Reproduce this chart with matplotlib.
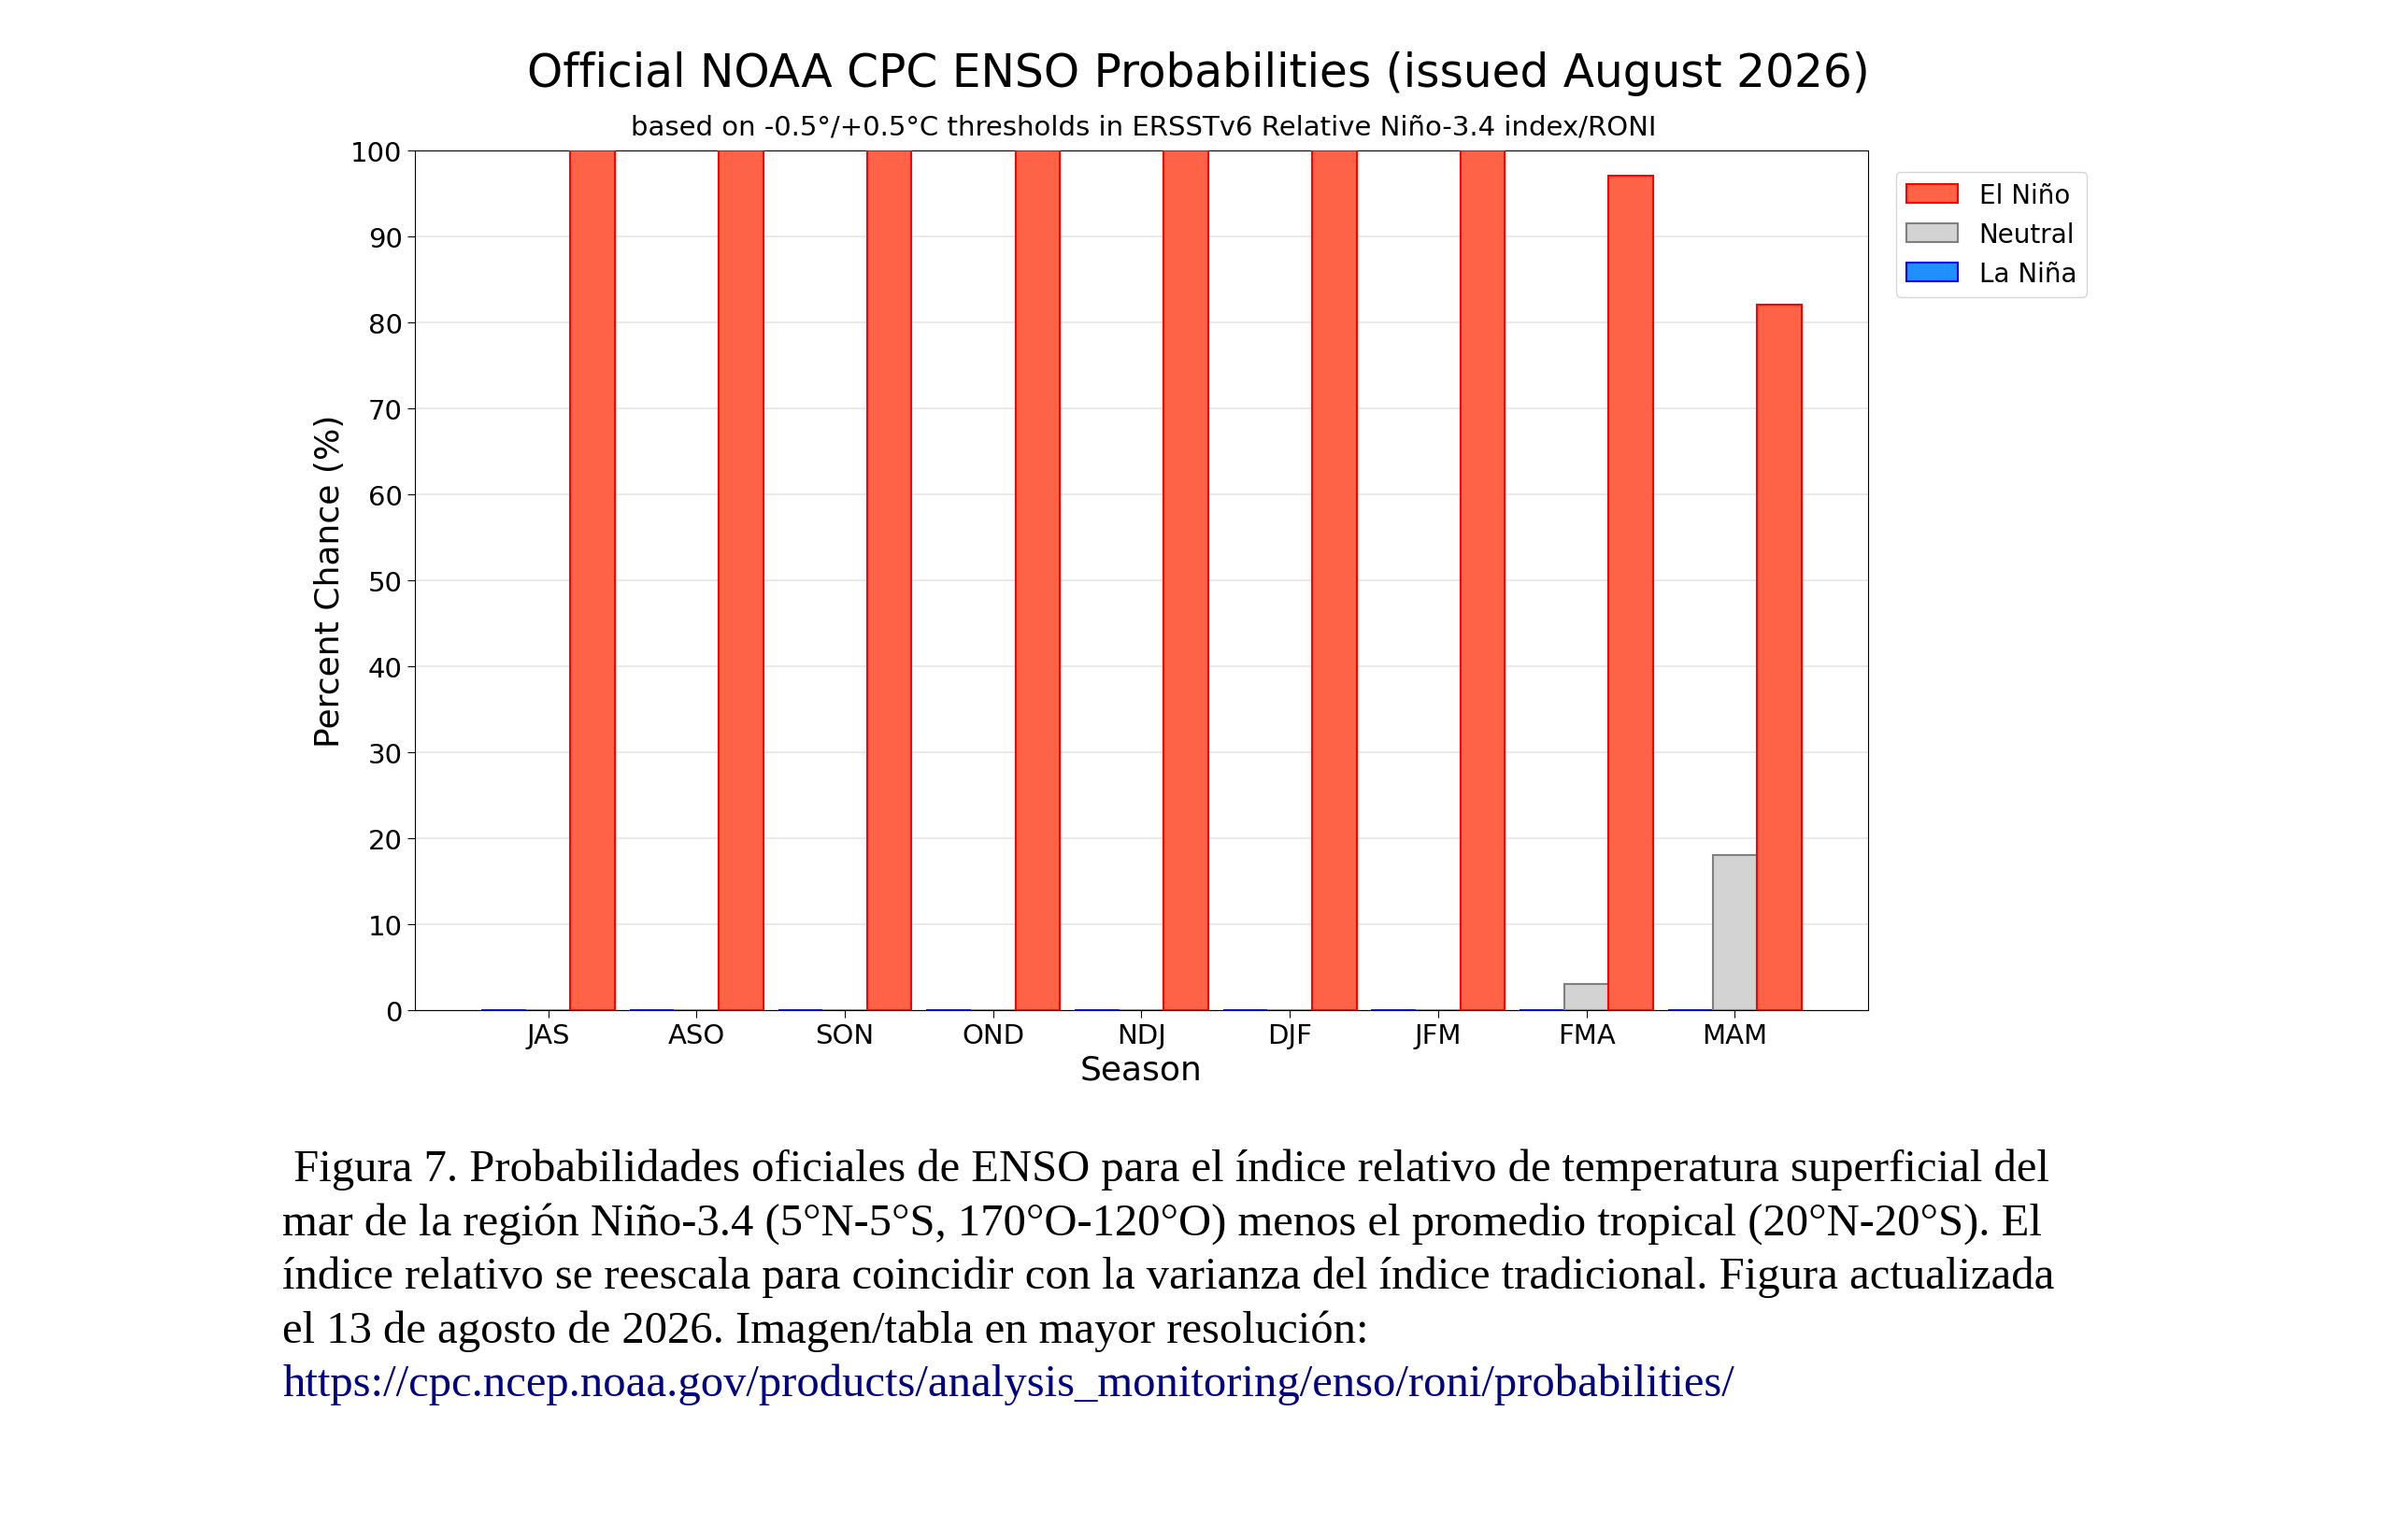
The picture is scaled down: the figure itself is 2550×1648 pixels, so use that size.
import matplotlib
matplotlib.use("Agg")
import matplotlib.pyplot as plt
import numpy as np

seasons = ["JAS","ASO","SON","OND","NDJ","DJF","JFM","FMA","MAM"]
la_nina = [0,0,0,0,0,0,0,0,0]
neutral = [0,0,0,0,0,0,0,3,18]
el_nino = [100,100,100,100,100,100,100,97,82]

fig = plt.figure(figsize=(25.5,16.49), dpi=100)
ax = fig.add_axes([0.174,0.344,0.61,0.558])
x = np.arange(len(seasons))
w = 0.3
ax.bar(x-w, la_nina, w, color="#1E90FF", edgecolor="blue", linewidth=1.5, label="La Niña", zorder=3)
ax.bar(x, neutral, w, color="lightgray", edgecolor="gray", linewidth=1.5, label="Neutral", zorder=3)
ax.bar(x+w, el_nino, w, color="tomato", edgecolor="red", linewidth=1.5, label="El Niño", zorder=3)
ax.set_xlim(-0.9,8.9)
ax.set_ylim(0,100)
ax.set_yticks(range(0,101,10))
ax.set_xticks(x)
ax.set_xticklabels(seasons)
ax.tick_params(labelsize=21, length=6)
ax.yaxis.grid(True, color="#e6e6e6", linewidth=1.2, zorder=0)
ax.set_xlabel("Season", fontsize=26)
ax.set_ylabel("Percent Chance (%)", fontsize=26)
h, l = ax.get_legend_handles_labels()
ax.legend(h[::-1], l[::-1], loc="upper left", bbox_to_anchor=(1.01,0.99), fontsize=20)
fig.text(0.503,0.952,"Official NOAA CPC ENSO Probabilities (issued August 2026)", ha="center", va="center", fontsize=35)
fig.text(0.48,0.917,"based on -0.5°/+0.5°C thresholds in ERSSTv6 Relative Niño-3.4 index/RONI", ha="center", va="center", fontsize=21)
lines = [" Figura 7. Probabilidades oficiales de ENSO para el índice relativo de temperatura superficial del",
         "mar de la región Niño-3.4 (5°N-5°S, 170°O-120°O) menos el promedio tropical (20°N-20°S). El",
         "índice relativo se reescala para coincidir con la varianza del índice tradicional. Figura actualizada",
         "el 13 de agosto de 2026. Imagen/tabla en mayor resolución:"]
y0 = 1-766/1009
for i, t in enumerate(lines):
    fig.text(185/1560, y0-i*35.2/1009, t, ha="left", va="center", fontsize=35, family="Liberation Serif")
fig.text(185/1560, y0-4*35.2/1009, "https://cpc.ncep.noaa.gov/products/analysis_monitoring/enso/roni/probabilities/",
         ha="left", va="center", fontsize=35, family="Liberation Serif", color="#000080")
fig.savefig("out.png", dpi=100)
